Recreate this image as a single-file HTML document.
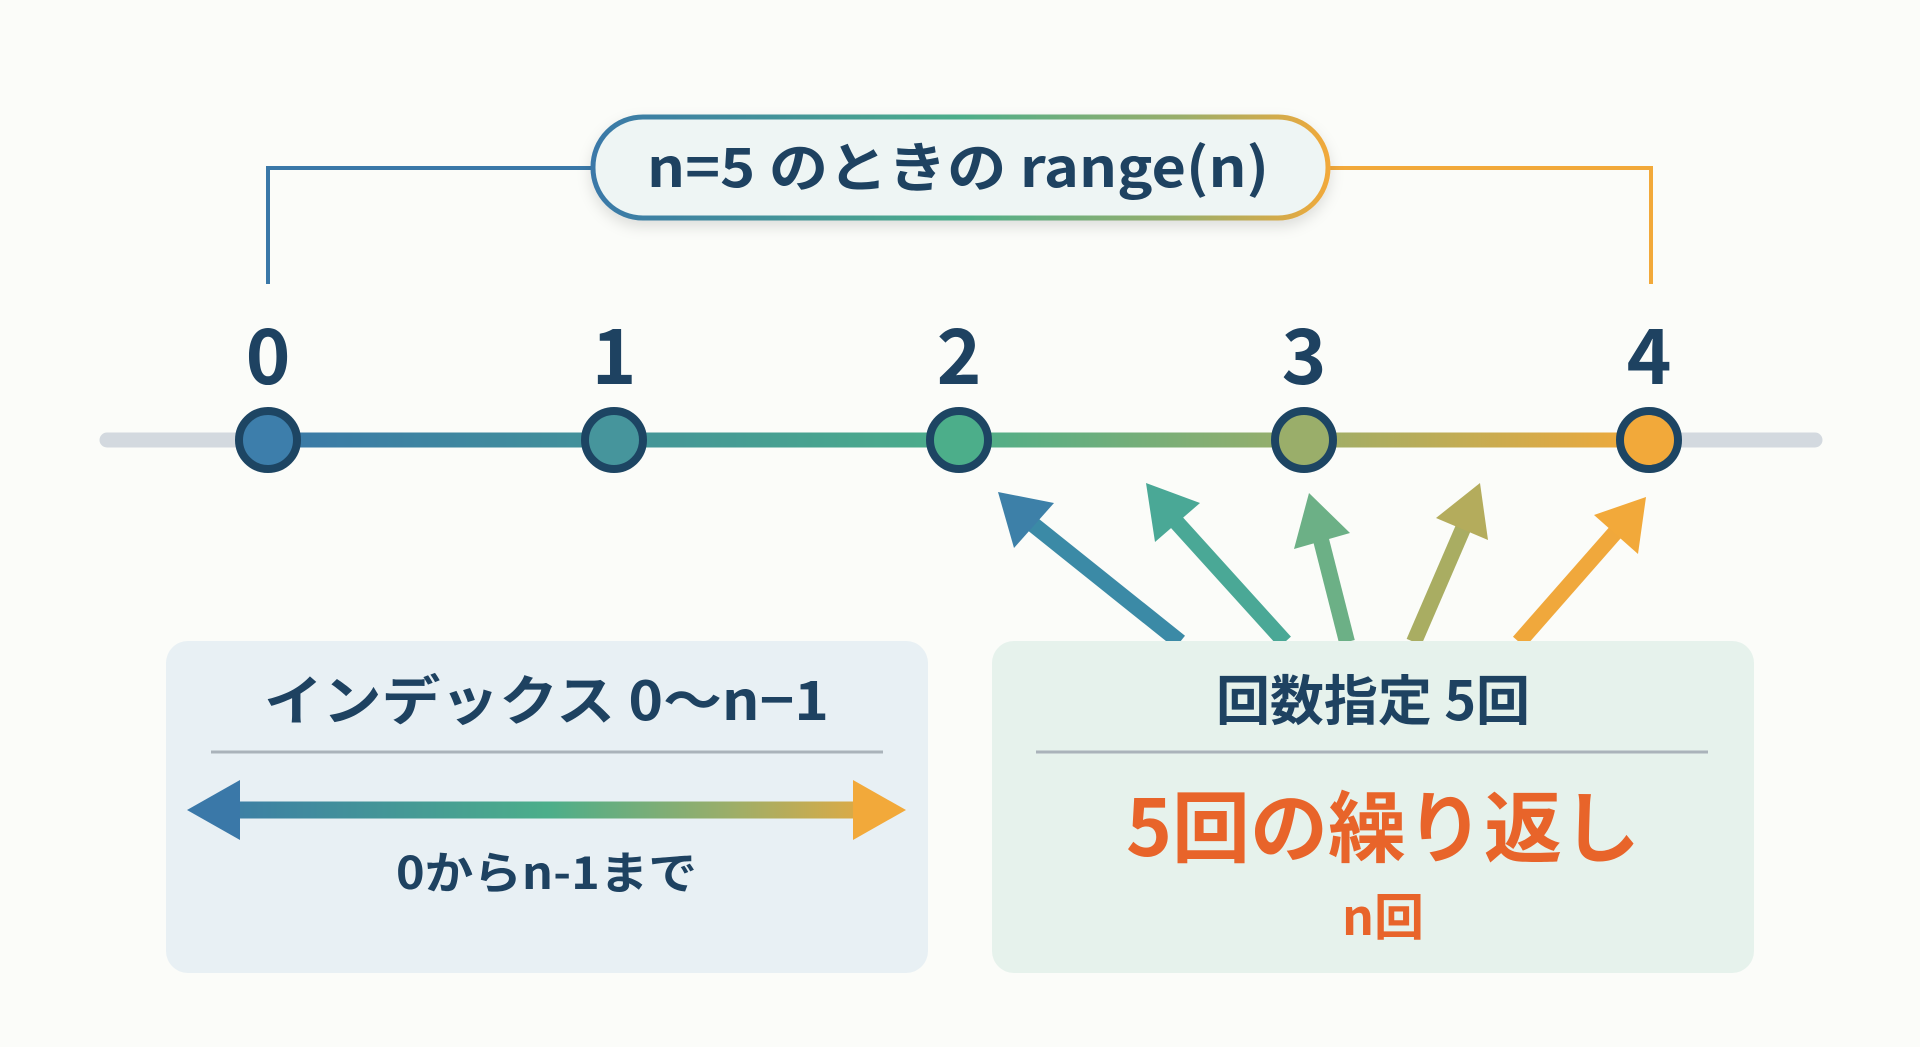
<!DOCTYPE html>
<html><head><meta charset="utf-8">
<style>
html,body{margin:0;padding:0;background:#fbfcf9;}
svg{display:block;}
text{font-family:"Noto Sans CJK JP","Liberation Sans",sans-serif;font-weight:bold;}
</style></head>
<body>
<svg width="1920" height="1047" viewBox="0 0 1920 1047" xmlns="http://www.w3.org/2000/svg">
<defs>
<linearGradient id="g" x1="268" y1="0" x2="1649" y2="0" gradientUnits="userSpaceOnUse">
<stop offset="0" stop-color="#3a78a8"/><stop offset="0.5" stop-color="#4cae8a"/><stop offset="0.75" stop-color="#9aae6a"/><stop offset="1" stop-color="#f2a93a"/>
</linearGradient>
<linearGradient id="gp" x1="591" y1="0" x2="1330" y2="0" gradientUnits="userSpaceOnUse">
<stop offset="0" stop-color="#3a78a8"/><stop offset="0.5" stop-color="#4cae8a"/><stop offset="0.8" stop-color="#9aae6a"/><stop offset="1" stop-color="#f2a93a"/>
</linearGradient>
<linearGradient id="ga" x1="187" y1="0" x2="906" y2="0" gradientUnits="userSpaceOnUse">
<stop offset="0" stop-color="#3a78a8"/><stop offset="0.5" stop-color="#4cae8a"/><stop offset="0.75" stop-color="#9aae6a"/><stop offset="1" stop-color="#f2a93a"/>
</linearGradient>
<filter id="sh" x="-10%" y="-30%" width="120%" height="160%"><feDropShadow dx="0" dy="6" stdDeviation="7" flood-color="#000" flood-opacity="0.12"/></filter>
</defs>

<polyline points="268,284 268,168 600,168" fill="none" stroke="#3a78a8" stroke-width="4"/>
<polyline points="1320,168 1651,168 1651,284" fill="none" stroke="#f2a93a" stroke-width="4"/>
<line x1="600" y1="168" x2="1320" y2="168" stroke="url(#gp)" stroke-width="4"/>

<rect x="593" y="117" width="735" height="101" rx="50" fill="#eef5f4" stroke="url(#gp)" stroke-width="5" filter="url(#sh)"/>
<text x="647" y="187" font-size="54" fill="#1e4261" textLength="622" lengthAdjust="spacingAndGlyphs">n=5 のときの range(n)</text>

<g font-size="76" fill="#1e4261" text-anchor="middle">
<text x="268" y="384">0</text><text x="614" y="384">1</text><text x="959" y="384">2</text><text x="1304" y="384">3</text><text x="1649" y="384">4</text>
</g>

<line x1="107" y1="440" x2="1815" y2="440" stroke="#d3d9df" stroke-width="15" stroke-linecap="round"/>
<line x1="268" y1="440" x2="1649" y2="440" stroke="url(#g)" stroke-width="15"/>
<g stroke="#1d4563" stroke-width="8">
<circle cx="268" cy="440" r="29" fill="#3d7eab"/>
<circle cx="614" cy="440" r="29" fill="#46959c"/>
<circle cx="959" cy="440" r="29" fill="#4cae8a"/>
<circle cx="1304" cy="440" r="29" fill="#9aae6a"/>
<circle cx="1649" cy="440" r="29" fill="#f2a93a"/>
</g>

<g stroke-width="16" fill="none">
<line x1="1180" y1="642" x2="1030" y2="522" stroke="#3b8aa6"/>
<line x1="1285" y1="642" x2="1170" y2="515" stroke="#4aa896"/>
<line x1="1347" y1="642" x2="1318" y2="528" stroke="#6cb086"/>
<line x1="1414" y1="642" x2="1468" y2="517" stroke="#a9ad62"/>
<line x1="1519" y1="642" x2="1620" y2="527" stroke="#f0a83c"/>
</g>
<g>
<polygon points="998,492 1054,503 1014,548" fill="#3d80a8"/>
<polygon points="1146,483 1200,503 1155,542" fill="#4aa896"/>
<polygon points="1309,493 1350,533 1294,549" fill="#6cb086"/>
<polygon points="1480,483 1488,540 1436,518" fill="#b4ac5c"/>
<polygon points="1646,497 1638,554 1594,515" fill="#f2a93a"/>
</g>

<rect x="166" y="641" width="762" height="332" rx="22" fill="#e8f0f4"/>
<rect x="992" y="641" width="762" height="332" rx="22" fill="#e6f2ec"/>

<text x="264" y="720" font-size="54" fill="#1e4261" textLength="565" lengthAdjust="spacingAndGlyphs">インデックス 0〜n−1</text>
<line x1="211" y1="752" x2="883" y2="752" stroke="#aab3ba" stroke-width="3"/>
<line x1="230" y1="810" x2="860" y2="810" stroke="url(#ga)" stroke-width="17"/>
<polygon points="187,810 240,780 240,840" fill="#3a78a8"/>
<polygon points="906,810 853,780 853,840" fill="#f2a93a"/>
<text x="396" y="889" font-size="45" fill="#1e4261" textLength="301" lengthAdjust="spacingAndGlyphs">0からn-1まで</text>

<text x="1373" y="720" text-anchor="middle" font-size="54" fill="#1e4261">回数指定 5回</text>
<line x1="1036" y1="752" x2="1708" y2="752" stroke="#aab3ba" stroke-width="3"/>
<text x="1383" y="856" text-anchor="middle" font-size="78" fill="#e8642a">5回の繰り返し</text>
<text x="1383" y="935" text-anchor="middle" font-size="50" fill="#e8642a">n回</text>
</svg>
</body></html>
